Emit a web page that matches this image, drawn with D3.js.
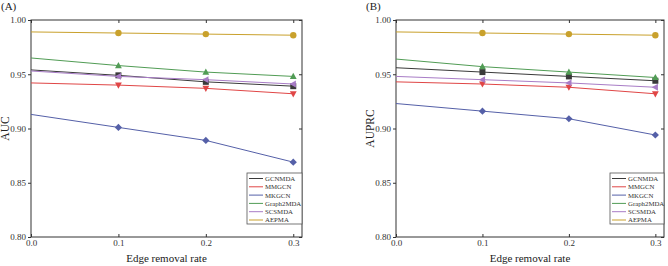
<!DOCTYPE html>
<html>
<head>
<meta charset="utf-8">
<script src="https://cdn.jsdelivr.net/npm/d3@7"></script>
<style>
  body { margin: 0; background: #fff; }
  svg { display: block; font-family: "Liberation Serif", "Times New Roman", serif; }
</style>
</head>
<body>
<svg id="chart" width="668" height="266"></svg>
<script>
// edge removal rates on the x axis
const rates = [0.0, 0.1, 0.2, 0.3];
const xTicks = [0.0, 0.1, 0.2, 0.3];
const yTicks = [0.80, 0.85, 0.90, 0.95, 1.00];
const methods = ["GCNMDA", "MMGCN", "MKGCN", "Graph2MDA", "SCSMDA", "AEPMA"];

// panel A: AUC
const aucGCNMDA = [0.954, 0.949, 0.943, 0.939];
const aucMMGCN = [0.942, 0.940, 0.937, 0.932];
const aucMKGCN = [0.913, 0.901, 0.889, 0.869];
const aucGraph2MDA = [0.965, 0.958, 0.952, 0.948];
const aucSCSMDA = [0.953, 0.948, 0.945, 0.941];
const aucAEPMA = [0.989, 0.988, 0.987, 0.986];

// panel B: AUPRC
const auprcGCNMDA = [0.956, 0.952, 0.948, 0.944];
const auprcMMGCN = [0.943, 0.941, 0.938, 0.932];
const auprcMKGCN = [0.923, 0.916, 0.909, 0.894];
const auprcGraph2MDA = [0.964, 0.957, 0.952, 0.947];
const auprcSCSMDA = [0.948, 0.945, 0.942, 0.938];
const auprcAEPMA = [0.989, 0.988, 0.987, 0.986];

const colors = {
  GCNMDA: "#3a3a3a", MMGCN: "#e04646", MKGCN: "#5560a8",
  Graph2MDA: "#519c55", SCSMDA: "#a87cc6", AEPMA: "#c9a12c"
};
const symbols = {
  GCNMDA: "square", MMGCN: "down", MKGCN: "diamond",
  Graph2MDA: "up", SCSMDA: "left", AEPMA: "circle"
};

const svg = d3.select("#chart");

function marker(g, type, color) {
  const s = 3;
  let p;
  if (type === "circle") {
    g.append("circle").attr("r", 3.2).attr("fill", color);
    return;
  }
  if (type === "square") p = [[-s, -s], [s, -s], [s, s], [-s, s]];
  if (type === "diamond") p = [[0, -3.6], [3.6, 0], [0, 3.6], [-3.6, 0]];
  if (type === "up") p = [[0, -3.6], [3.4, 2.6], [-3.4, 2.6]];
  if (type === "down") p = [[0, 3.6], [3.4, -2.6], [-3.4, -2.6]];
  if (type === "left") p = [[-3.6, 0], [2.6, -3.4], [2.6, 3.4]];
  g.append("path").attr("d", "M" + p.join("L") + "Z").attr("fill", color);
}

function panel(opts) {
  const { left, right, top, bottom, label, yTitle, series, legendX } = opts;
  const x = d3.scaleLinear().domain([0, 0.31]).range([left, right]);
  const y = d3.scaleLinear().domain([0.80, 1.00]).range([bottom, top]);
  const g = svg.append("g");

  // frame
  g.append("rect")
    .attr("x", left).attr("y", top)
    .attr("width", right - left).attr("height", bottom - top)
    .attr("fill", "none").attr("stroke", "#333").attr("stroke-width", 1);

  // axes
  const bottomAxis = g.append("g").attr("transform", `translate(0,${bottom})`)
    .call(d3.axisBottom(x).tickValues(xTicks).tickFormat(d3.format(".1f")).tickSizeInner(-3).tickSizeOuter(0));
  const topAxis = g.append("g").attr("transform", `translate(0,${top})`)
    .call(d3.axisTop(x).tickValues(xTicks).tickFormat("").tickSizeInner(-3).tickSizeOuter(0));
  const leftAxis = g.append("g").attr("transform", `translate(${left},0)`)
    .call(d3.axisLeft(y).tickValues(yTicks).tickFormat(d3.format(".2f")).tickSizeInner(3).tickSizeOuter(0).tickPadding(2));
  const rightAxis = g.append("g").attr("transform", `translate(${right},0)`)
    .call(d3.axisRight(y).tickValues(yTicks).tickFormat("").tickSizeInner(-3).tickSizeOuter(0));
  [bottomAxis, topAxis, leftAxis, rightAxis].forEach(a => {
    a.select(".domain").remove();
    a.selectAll("line").attr("stroke", "#333");
    a.selectAll("text").attr("fill", "#333").style("font-size", "9px")
      .style("font-family", "'Liberation Serif', serif");
  });
  // the bottom tick labels sit just under the frame
  bottomAxis.selectAll("text").attr("y", 3);

  // titles
  g.append("text")
    .attr("x", (left + right) / 2).attr("y", 262)
    .attr("text-anchor", "middle").attr("fill", "#222")
    .style("font-size", "11px")
    .text("Edge removal rate");
  g.append("text")
    .attr("transform", `translate(${left - 22},${(top + bottom) / 2}) rotate(-90)`)
    .attr("text-anchor", "middle").attr("fill", "#222")
    .style("font-size", "11.5px")
    .text(yTitle);
  g.append("text")
    .attr("x", left - 30).attr("y", 10)
    .attr("fill", "#222").style("font-size", "11px")
    .text(label);

  // lines and markers
  const line = d3.line().x((d, i) => x(rates[i])).y(d => y(d));
  methods.forEach(m => {
    g.append("path")
      .datum(series[m])
      .attr("d", line)
      .attr("fill", "none")
      .attr("stroke", colors[m])
      .attr("stroke-width", 1);
    series[m].forEach((v, i) => {
      if (i === 0) return;
      const mg = g.append("g").attr("transform", `translate(${x(rates[i])},${y(v)})`);
      marker(mg, symbols[m], colors[m]);
    });
  });

  // legend
  const lg = g.append("g").attr("transform", `translate(${legendX},173)`);
  lg.append("rect")
    .attr("width", right - legendX).attr("height", 51)
    .attr("fill", "#fff").attr("stroke", "#555").attr("stroke-width", 0.8);
  methods.forEach((m, i) => {
    const yy = 5.5 + i * 8.3;
    lg.append("line")
      .attr("x1", 2).attr("x2", 16).attr("y1", yy).attr("y2", yy)
      .attr("stroke", colors[m]).attr("stroke-width", 1);
    lg.append("text")
      .attr("x", 18).attr("y", yy + 2.4)
      .attr("fill", "#333").style("font-size", "6.8px")
      .text(m);
  });
}

panel({
  left: 31, right: 302, top: 20, bottom: 237,
  label: "(A)", yTitle: "AUC", legendX: 247,
  series: {
    GCNMDA: aucGCNMDA, MMGCN: aucMMGCN, MKGCN: aucMKGCN,
    Graph2MDA: aucGraph2MDA, SCSMDA: aucSCSMDA, AEPMA: aucAEPMA
  }
});

panel({
  left: 396, right: 664, top: 20, bottom: 237,
  label: "(B)", yTitle: "AUPRC", legendX: 610,
  series: {
    GCNMDA: auprcGCNMDA, MMGCN: auprcMMGCN, MKGCN: auprcMKGCN,
    Graph2MDA: auprcGraph2MDA, SCSMDA: auprcSCSMDA, AEPMA: auprcAEPMA
  }
});
</script>
</body>
</html>
